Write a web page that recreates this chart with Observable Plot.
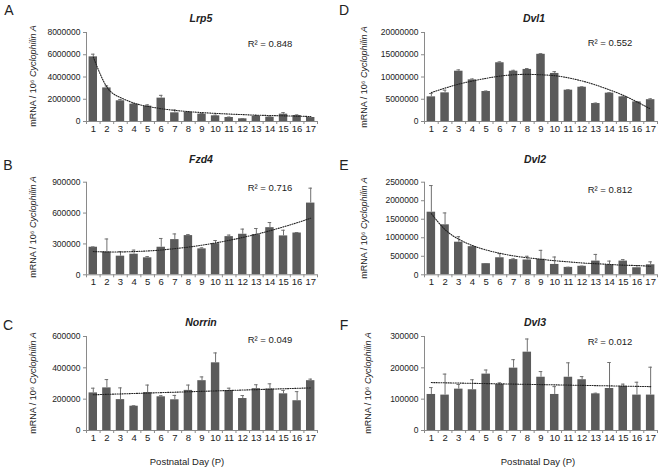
<!DOCTYPE html>
<html>
<head>
<meta charset="utf-8">
<script src="https://cdn.jsdelivr.net/npm/d3@7"></script>
<script src="https://cdn.jsdelivr.net/npm/@observablehq/plot@0.6"></script>
<style>
  body { margin: 0; background: #fff; }
  #fig { position: relative; width: 662px; height: 469px; overflow: hidden;
         font-family: "Liberation Sans", Arial, sans-serif; color: #222; background: #fff; }
  #fig svg { position: absolute; }
  .lbl { position: absolute; transform: translate(-50%, -50%); white-space: nowrap; line-height: 1; }
  .letter { font-size: 14px; }
  .gene { font-size: 10.5px; font-weight: bold; font-style: italic; }
  .r2 { font-size: 9.5px; }
  .ytitle { font-size: 9px; transform: translate(-50%, -50%) rotate(-90deg); }
  .xtitle { font-size: 9.5px; }
</style>
</head>
<body>
<div id="fig"></div>
<script>
// ---- data ----
const days = [1, 2, 3, 4, 5, 6, 7, 8, 9, 10, 11, 12, 13, 14, 15, 16, 17];

const lrp5      = [5810000, 3020000, 1860000, 1560000, 1380000, 2100000, 780000, 810000, 660000, 510000, 360000, 240000, 480000, 390000, 660000, 540000, 360000];
const lrp5Err   = [240000, 180000, 120000, 30000, 120000, 250000, 250000, 80000, 60000, 60000, 40000, 20000, 50000, 30000, 140000, 50000, 20000];
const lrp5Trend = [5800000, 3100000, 2150000, 1650000, 1360000, 1150000, 1000000, 890000, 800000, 730000, 670000, 620000, 570000, 540000, 510000, 480000, 450000];
const lrp5Ticks = [0, 2000000, 4000000, 6000000, 8000000];

const fzd4      = [268000, 223000, 181000, 200000, 165000, 268000, 342000, 381000, 252000, 303000, 371000, 394000, 390000, 458000, 378000, 406000, 697000];
const fzd4Err   = [3000, 125000, 45000, 40000, 12000, 85000, 55000, 10000, 10000, 30000, 15000, 50000, 60000, 50000, 55000, 5000, 145000];
const fzd4Trend = [226000, 222000, 222000, 226000, 232000, 241000, 254000, 269000, 288000, 310000, 335000, 363000, 394000, 428000, 466000, 506000, 550000];
const fzd4Ticks = [0, 300000, 600000, 900000];

const norrin      = [240000, 272000, 197000, 155000, 242000, 215000, 196000, 256000, 318000, 432000, 255000, 204000, 267000, 265000, 234000, 190000, 318000];
const norrinErr   = [30000, 53000, 75000, 3000, 48000, 7000, 28000, 34000, 24000, 63000, 15000, 19000, 25000, 33000, 22000, 58000, 10000];
const norrinTrendDays = [1, 17];
const norrinTrend = [228000, 272000];
const norrinTicks = [0, 200000, 400000, 600000];

const dvl1      = [5540000, 6440000, 11300000, 9360000, 6740000, 13200000, 11300000, 11700000, 15100000, 10800000, 7040000, 7700000, 4040000, 6370000, 5540000, 4400000, 4900000];
const dvl1Err   = [750000, 600000, 300000, 200000, 100000, 200000, 200000, 200000, 150000, 400000, 100000, 100000, 100000, 100000, 150000, 100000, 200000];
const dvl1Trend = [6500000, 7500000, 8400000, 9100000, 9700000, 10200000, 10500000, 10600000, 10500000, 10300000, 9800000, 9100000, 8200000, 7100000, 5900000, 4400000, 2800000];
const dvl1Ticks = [0, 5000000, 10000000, 15000000, 20000000];

const dvl2      = [1690000, 1350000, 880000, 760000, 300000, 460000, 410000, 400000, 420000, 280000, 200000, 230000, 370000, 270000, 370000, 190000, 270000];
const dvl2Err   = [720000, 320000, 150000, 10000, 5000, 110000, 20000, 100000, 240000, 200000, 5000, 5000, 180000, 100000, 40000, 60000, 80000];
const dvl2Trend = [1650000, 1220000, 960000, 790000, 670000, 580000, 510000, 460000, 420000, 380000, 350000, 320000, 300000, 280000, 260000, 250000, 230000];
const dvl2Ticks = [0, 500000, 1000000, 1500000, 2000000, 2500000];

const dvl3      = [115000, 113000, 132000, 130000, 180000, 147000, 199000, 250000, 170000, 115000, 170000, 162000, 117000, 134000, 141000, 113000, 113000];
const dvl3Err   = [22000, 67000, 15000, 32000, 13000, 5000, 27000, 42000, 18000, 25000, 46000, 10000, 2000, 83000, 7000, 41000, 89000];
const dvl3TrendDays = [1, 17];
const dvl3Trend = [153000, 140000];
const dvl3Ticks = [0, 100000, 200000, 300000];

const letters = ["A", "B", "C", "D", "E", "F"];
const genes = ["Lrp5", "Fzd4", "Norrin", "Dvl1", "Dvl2", "Dvl3"];
const r2s = ["0.848", "0.716", "0.049", "0.552", "0.812", "0.012"];
const xTitle = "Postnatal Day (P)";

// ---- layout ----
const panels = [
  {values: lrp5,   errors: lrp5Err,   trend: lrp5Trend,   trendDays: days,            ticks: lrp5Ticks,   col: 0, row: 0},
  {values: fzd4,   errors: fzd4Err,   trend: fzd4Trend,   trendDays: days,            ticks: fzd4Ticks,   col: 0, row: 1},
  {values: norrin, errors: norrinErr, trend: norrinTrend, trendDays: norrinTrendDays, ticks: norrinTicks, col: 0, row: 2},
  {values: dvl1,   errors: dvl1Err,   trend: dvl1Trend,   trendDays: days,            ticks: dvl1Ticks,   col: 1, row: 0},
  {values: dvl2,   errors: dvl2Err,   trend: dvl2Trend,   trendDays: days,            ticks: dvl2Ticks,   col: 1, row: 1},
  {values: dvl3,   errors: dvl3Err,   trend: dvl3Trend,   trendDays: dvl3TrendDays,   ticks: dvl3Ticks,   col: 1, row: 2}
];
const cols = [{left: 0, mL: 86, mR: 14}, {left: 331, mL: 93, mR: 5}];
const rows = [{top: 0, h: 137, mT: 32, mB: 16}, {top: 137, h: 153, mT: 44.7, mB: 15.7}, {top: 290, h: 179, mT: 46, mB: 39}];

// text positions (centres)
const letterPos = [[9, 10], [8, 165], [8, 325], [344, 10], [344, 165], [344, 325]];
const genePos   = [[201, 18], [201, 159], [201, 322], [534, 18], [535, 158.5], [535, 322]];
const r2Pos     = [[270, 44], [270, 188], [270, 340], [610, 43], [610, 190], [610, 342]];
const yTitlePos = [[33, 76], [33, 227], [33, 383], [364, 77], [364, 228], [368, 383]];
const xTitlePos = [[187, 462], [538, 462]];

const boundaries = days.map(d => d - 0.5).concat([days[days.length - 1] + 0.5]);
const axisColor = "#8a8a8a";
const fig = document.getElementById("fig");

function addLabel(cls, html, pos) {
  const el = document.createElement("div");
  el.className = "lbl " + cls;
  el.innerHTML = html;
  el.style.left = pos[0] + "px";
  el.style.top = pos[1] + "px";
  fig.appendChild(el);
}

panels.forEach((p, k) => {
  const c = cols[p.col], r = rows[p.row];
  const data = days.map((d, i) => ({day: d, value: p.values[i], err: p.errors[i]}));
  const trend = p.trendDays.map((d, i) => ({day: d, value: p.trend[i]}));
  const chart = Plot.plot({
    width: 331, height: r.h,
    marginLeft: c.mL, marginRight: c.mR, marginTop: r.mT, marginBottom: r.mB,
    style: {fontFamily: '"Liberation Sans", Arial, sans-serif', fontSize: "8.5px", color: "#222", background: "transparent", overflow: "visible"},
    x: {domain: [0.5, 17.5]},
    y: {domain: [0, p.ticks[p.ticks.length - 1]]},
    marks: [
      Plot.rect(data, {x1: d => d.day - 0.31, x2: d => d.day + 0.31, y1: 0, y2: "value", fill: "#5b5b5b"}),
      Plot.ruleX(data, {x: "day", y1: "value", y2: d => d.value + d.err, stroke: "#707070", strokeWidth: 1}),
      Plot.ruleY(data, {y: d => d.value + d.err, x1: d => d.day - 0.13, x2: d => d.day + 0.13, stroke: "#707070", strokeWidth: 1}),
      Plot.line(trend, {x: "day", y: "value", curve: "natural", stroke: "#222", strokeWidth: 1.1, strokeDasharray: "1,1.4"}),
      Plot.ruleY([0], {stroke: axisColor}),
      Plot.ruleX([0.5], {stroke: axisColor}),
      Plot.axisY({ticks: p.ticks, tickSize: 3, tickPadding: 3, tickFormat: d3.format("d"), label: null, stroke: axisColor, fontSize: 8.5}),
      Plot.axisX({ticks: boundaries, tickSize: 3, tickFormat: () => "", label: null, stroke: axisColor}),
      Plot.axisX({ticks: days, tickSize: 0, tickPadding: 3.5, tickFormat: d3.format("d"), label: null, fontSize: 9.5})
    ]
  });
  chart.style.left = c.left + "px";
  chart.style.top = r.top + "px";
  fig.appendChild(chart);

  addLabel("letter", letters[k], letterPos[k]);
  addLabel("gene", genes[k], genePos[k]);
  addLabel("r2", "R² = " + r2s[k], r2Pos[k]);
  addLabel("ytitle", "mRNA / 10⁶ <i>Cyclophilin A</i>", yTitlePos[k]);
});
xTitlePos.forEach(pos => addLabel("xtitle", xTitle, pos));
</script>
</body>
</html>
